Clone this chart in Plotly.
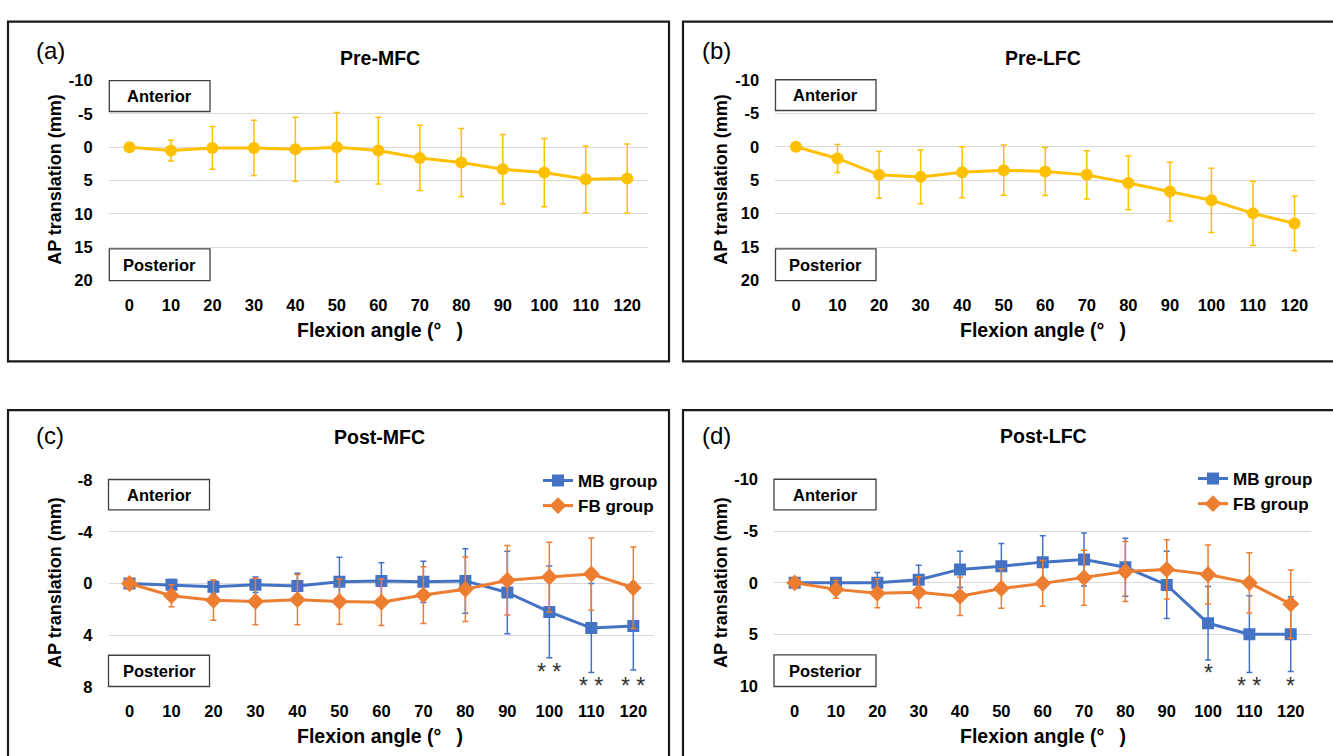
import plotly.graph_objects as go

W, H = 1333, 756

angles = [0, 10, 20, 30, 40, 50, 60, 70, 80, 90, 100, 110, 120]
angle_labels = [str(a) for a in angles]

yticks_pre = [-10, -5, 0, 5, 10, 15, 20]
yticks_pre_labels = ["-10", "-5", "0", "5", "10", "15", "20"]
yticks_post_mfc = [-8, -4, 0, 4, 8]
yticks_post_mfc_labels = ["-8", "-4", "0", "4", "8"]
yticks_post_lfc = [-10, -5, 0, 5, 10]
yticks_post_lfc_labels = ["-10", "-5", "0", "5", "10"]

pre_mfc_mean = [0.0, 0.5, 0.1, 0.1, 0.3, 0.0, 0.5, 1.6, 2.3, 3.3, 3.8, 4.8, 4.7]
pre_mfc_sd = [0.0, 1.55, 3.2, 4.15, 4.8, 5.2, 5.0, 4.9, 5.1, 5.2, 5.1, 5.0, 5.2]

pre_lfc_mean = [0.0, 1.75, 4.2, 4.5, 3.8, 3.5, 3.7, 4.2, 5.4, 6.7, 8.0, 9.95, 11.45]
pre_lfc_sd = [0.0, 2.1, 3.5, 4.0, 3.8, 3.75, 3.6, 3.6, 4.0, 4.4, 4.8, 4.8, 4.1]

post_mfc_mb_mean = [0.0, 0.1, 0.25, 0.1, 0.2, -0.13, -0.2, -0.13, -0.2, 0.7, 2.2, 3.45, 3.3]
post_mfc_mb_sd = [0.3, 0.4, 0.5, 0.6, 1.0, 1.9, 1.4, 1.6, 2.5, 3.2, 3.55, 3.45, 3.4]
post_mfc_fb_mean = [0.0, 0.95, 1.3, 1.4, 1.25, 1.4, 1.45, 0.9, 0.45, -0.25, -0.5, -0.73, 0.33]
post_mfc_fb_sd = [0.3, 0.85, 1.55, 1.8, 1.95, 1.75, 1.8, 2.2, 2.5, 2.7, 2.7, 2.8, 3.15]

post_lfc_mb_mean = [0.0, 0.0, 0.0, -0.3, -1.3, -1.6, -2.0, -2.25, -1.5, 0.2, 3.9, 4.95, 4.95]
post_lfc_mb_sd = [0.3, 0.3, 1.0, 1.4, 1.75, 2.2, 2.55, 2.55, 2.8, 3.25, 3.55, 3.7, 3.6]
post_lfc_fb_mean = [0.0, 0.63, 1.0, 0.9, 1.3, 0.55, 0.05, -0.5, -1.1, -1.3, -0.8, 0.0, 2.05]
post_lfc_fb_sd = [0.3, 0.85, 1.4, 1.5, 1.85, 1.9, 2.2, 2.65, 2.9, 2.85, 2.85, 2.9, 3.3]

sig_c = [(100, "* *"), (110, "* *"), (120, "* *")]
sig_d = [(100, "*"), (110, "* *"), (120, "*")]

YELLOW = "#FFC000"
BLUE = "#4472C4"
ORANGE = "#ED7D31"
FONT = "Liberation Sans"


def px(x):
    return x / W


def py(y):
    return 1 - y / H


fig = go.Figure()

panels = [
    ("", (108.7, 648.0, 73.3, 278.3), [20, -10], yticks_pre, yticks_pre_labels),
    ("2", (775.2, 1315.3, 72.5, 278.3), [20, -10], yticks_pre, yticks_pre_labels),
    ("3", (108.5, 654.3, 482.7, 694.3), [8, -8], yticks_post_mfc, yticks_post_mfc_labels),
    ("4", (774.0, 1311.4, 481.7, 694.0), [10, -10], yticks_post_lfc, yticks_post_lfc_labels),
]

for key, (l, r, t, b), yr, tv, tt in panels:
    fig.layout["xaxis" + key] = dict(
        domain=[px(l), px(r)], anchor="y" + key, range=[-5, 125],
        tickmode="array", tickvals=angles, ticktext=angle_labels,
        showgrid=False, zeroline=False, showline=False, ticks="",
        ticklabelstandoff=13,
        tickfont=dict(family=FONT, size=16.5, color="#000", weight="bold"),
    )
    fig.layout["yaxis" + key] = dict(
        domain=[py(b), py(t)], anchor="x" + key, range=yr,
        tickmode="array", tickvals=tv, ticktext=tt,
        showgrid=True, gridcolor="#d9d9d9", gridwidth=1,
        zeroline=False, showline=False, ticks="",
        ticklabelstandoff=15,
        tickfont=dict(family=FONT, size=16.5, color="#000", weight="bold"),
    )


def err(sd, color):
    return dict(type="data", array=sd, visible=True, color=color,
                thickness=1.5, width=3)


fig.add_trace(go.Scatter(
    x=angles, y=pre_mfc_mean, mode="lines+markers", xaxis="x", yaxis="y",
    line=dict(color=YELLOW, width=3), marker=dict(color=YELLOW, size=12),
    error_y=err(pre_mfc_sd, YELLOW), showlegend=False))
fig.add_trace(go.Scatter(
    x=angles, y=pre_lfc_mean, mode="lines+markers", xaxis="x2", yaxis="y2",
    line=dict(color=YELLOW, width=3), marker=dict(color=YELLOW, size=12),
    error_y=err(pre_lfc_sd, YELLOW), showlegend=False))

for xa, ya, mb_m, mb_s, fb_m, fb_s, lg in [
    ("x3", "y3", post_mfc_mb_mean, post_mfc_mb_sd, post_mfc_fb_mean, post_mfc_fb_sd, "legend"),
    ("x4", "y4", post_lfc_mb_mean, post_lfc_mb_sd, post_lfc_fb_mean, post_lfc_fb_sd, "legend2"),
]:
    fig.add_trace(go.Scatter(
        x=angles, y=mb_m, mode="lines+markers", xaxis=xa, yaxis=ya, name="MB group",
        line=dict(color=BLUE, width=3), marker=dict(color=BLUE, size=12, symbol="square"),
        error_y=err(mb_s, BLUE), legend=lg))
    fig.add_trace(go.Scatter(
        x=angles, y=fb_m, mode="lines+markers", xaxis=xa, yaxis=ya, name="FB group",
        line=dict(color=ORANGE, width=3), marker=dict(color=ORANGE, size=13, symbol="diamond"),
        error_y=err(fb_s, ORANGE), legend=lg))

legend_common = dict(
    xanchor="left", yanchor="top", bgcolor="rgba(0,0,0,0)", borderwidth=0,
    font=dict(family=FONT, size=17, color="#000", weight="bold"),
    itemwidth=30, tracegroupgap=0,
)

shapes = []
annotations = []

for x0, x1, y0, y1 in [(8, 669, 13, 361), (683, 1345, 13, 361),
                       (8, 669, 411, 770), (683, 1345, 411, 770)]:
    shapes.append(dict(type="rect", xref="paper", yref="paper",
                       x0=px(x0), x1=px(x1), y0=py(y1), y1=py(y0),
                       line=dict(color="#1a1a1a", width=2.2), fillcolor="rgba(0,0,0,0)"))

boxes = [
    (109.3, 210, 73.3, 105, "Anterior"), (109.3, 210, 245.7, 278.3, "Posterior"),
    (775.5, 876, 72.5, 104, "Anterior"), (775.5, 876, 245.7, 278.3, "Posterior"),
    (108.5, 209.5, 482, 513, "Anterior"), (108.5, 209.5, 662, 694, "Posterior"),
    (774, 876, 481.7, 513, "Anterior"), (774, 876, 661.7, 694, "Posterior"),
]
for x0, x1, y0, y1, txt in boxes:
    shapes.append(dict(type="rect", xref="paper", yref="paper",
                       x0=px(x0), x1=px(x1), y0=py(y1), y1=py(y0),
                       line=dict(color="#404040", width=1.3), fillcolor="white"))
    annotations.append(dict(xref="paper", yref="paper", x=px((x0 + x1) / 2), y=py((y0 + y1) / 2),
                            text=txt, showarrow=False, xanchor="center", yanchor="middle",
                            font=dict(family=FONT, size=16.5, color="#000", weight="bold")))

xt = "Flexion angle (°\u2002 )"
texts = [
    ("(a)", 50, 42, 24, "normal"), ("(b)", 716, 43, 24, "normal"),
    ("(c)", 50, 437, 24, "normal"), ("(d)", 716, 437, 24, "normal"),
    ("Pre-MFC", 379.5, 50, 19.5, "bold"), ("Pre-LFC", 1043, 50, 19.5, "bold"),
    ("Post-MFC", 379.5, 438, 19.5, "bold"), ("Post-LFC", 1043, 437, 19.5, "bold"),
    (xt, 380, 329, 19.5, "bold"), (xt, 1043, 329, 19.5, "bold"),
    (xt, 380, 745, 19.5, "bold"), (xt, 1043, 745, 19.5, "bold"),
]
for txt, x, y, s, w in texts:
    annotations.append(dict(xref="paper", yref="paper", x=px(x), y=py(y), text=txt,
                            showarrow=False, xanchor="center", yanchor="middle",
                            font=dict(family=FONT, size=s, color="#000", weight=w)))

for x, y in [(55, 175), (721, 175), (55, 588), (721, 588)]:
    annotations.append(dict(xref="paper", yref="paper", x=px(x), y=py(y),
                            text="AP translation (mm)", textangle=-90,
                            showarrow=False, xanchor="center", yanchor="middle",
                            font=dict(family=FONT, size=18, color="#000", weight="bold")))

# significance asterisks: x in data units, vertical position in page pixels
for xa, marks, y_first, y_rest in [("x3", sig_c, 679, 693), ("x4", sig_d, 680, 693)]:
    for ang, txt in marks:
        annotations.append(dict(xref=xa, yref="paper", x=ang,
                                y=py(y_first if ang == 100 else y_rest), text=txt,
                                showarrow=False, xanchor="center", yanchor="middle",
                                font=dict(family=FONT, size=23, color="#333")))

fig.update_layout(
    width=W, height=H, margin=dict(l=0, r=0, t=0, b=0),
    paper_bgcolor="white", plot_bgcolor="white",
    font=dict(family=FONT, color="#000"),
    shapes=shapes, annotations=annotations,
    legend=dict(x=px(538), y=py(465), **legend_common),
    legend2=dict(x=px(1193), y=py(463), **legend_common),
)

fig.write_html("out.html", config={"displayModeBar": False},
               post_script="document.body.style.margin='0px';")
